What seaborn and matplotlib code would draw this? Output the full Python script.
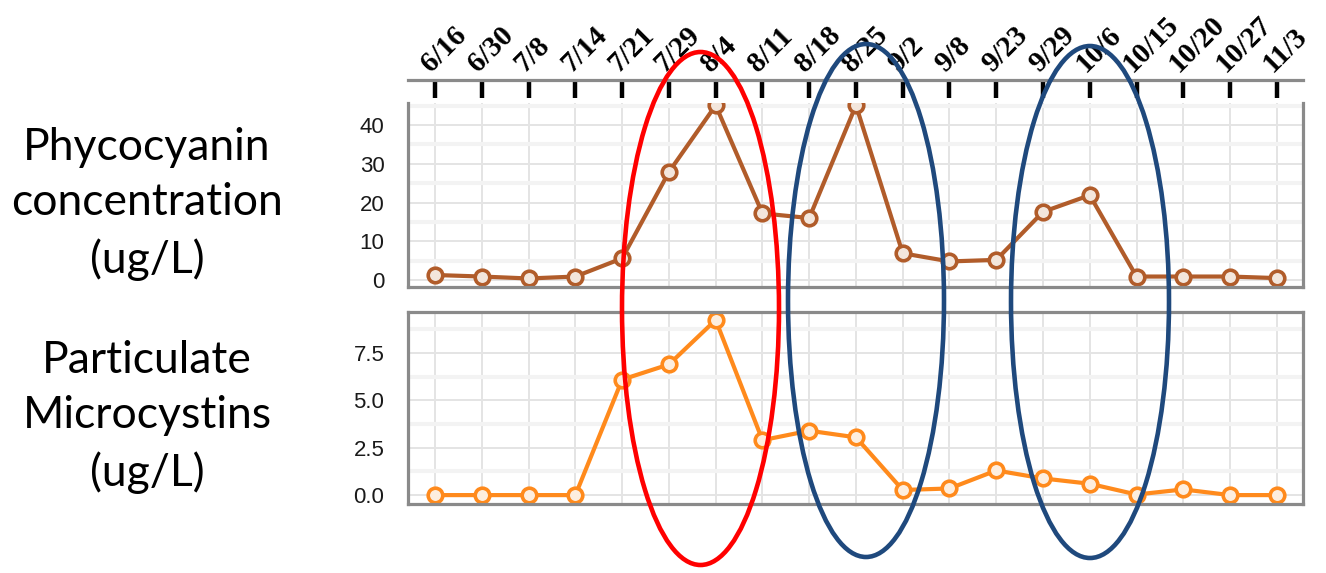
import numpy as np
import matplotlib
matplotlib.use("Agg")
import matplotlib.pyplot as plt
from matplotlib.patches import Ellipse
from matplotlib.ticker import MultipleLocator
import seaborn as sns

dates = ['6/16', '6/30', '7/8', '7/14', '7/21', '7/29', '8/4', '8/11', '8/18', '8/25',
         '9/2', '9/8', '9/23', '9/29', '10/6', '10/15', '10/20', '10/27', '11/3']
phycocyanin = [1.3, 0.9, 0.4, 0.9, 5.6, 27.9, 45.1, 17.2, 16.0, 45.1,
               6.9, 4.8, 5.2, 17.6, 21.9, 0.9, 0.9, 0.9, 0.5]
microcystins = [0.0, 0.0, 0.0, 0.0, 6.1, 6.9, 9.25, 2.9, 3.4, 3.05,
                0.27, 0.35, 1.3, 0.88, 0.6, 0.03, 0.3, 0.0, 0.0]

W, H = 1326, 573
idx = np.arange(len(dates))

sns.set_theme(style="white")
plt.rcParams['font.family'] = ['Liberation Sans', 'DejaVu Sans']

fig = plt.figure(figsize=(W / 100, H / 100), dpi=100)


def px_axes(left, top, right, bottom):
    return fig.add_axes([left / W, 1 - bottom / H, (right - left) / W, (bottom - top) / H])


ax1 = px_axes(408, 103, 1303, 287)
ax2 = px_axes(408, 312, 1303, 504)

spine_col = '#8a8a8a'

for ax in (ax1, ax2):
    ax.set_xlim(-0.58, 18.56)
    ax.set_xticks(idx)
    ax.grid(True, which='major', color='#e4e4e4', lw=1.4)
    ax.grid(True, which='minor', axis='y', color='#f3f3f3', lw=3)
    ax.tick_params(axis='y', length=0, pad=17, labelsize=16, labelcolor='#1a1a1a')
    ax.set_axisbelow(True)
    for s in ax.spines.values():
        s.set_color(spine_col)
        s.set_linewidth(2.3)

# top panel: phycocyanin
sns.lineplot(x=idx, y=phycocyanin, ax=ax1, color='#b15c2a', linewidth=3.0, marker='o',
             markersize=10.5, markeredgewidth=2.6, markeredgecolor='#b15c2a',
             markerfacecolor='#f3e6dc')
ax1.set_ylim(-1.8, 45.7)
ax1.set_yticks([0, 10, 20, 30, 40])
ax1.yaxis.set_minor_locator(MultipleLocator(5))
ax1.tick_params(axis='y', which='minor', length=0)
ax1.spines['top'].set_position(('outward', 16.5))
ax1.tick_params(axis='x', which='major', top=True, labeltop=True, bottom=False,
                labelbottom=False, direction='in', length=13, width=3.2,
                color='black', pad=2, labelsize=21, labelcolor='black')
ax1.set_xticks(idx)
ax1.set_xticklabels(dates, rotation=45, ha='left', va='bottom', rotation_mode='anchor',
                    fontfamily=['Liberation Serif', 'DejaVu Serif'],
                    fontweight='bold', fontsize=21)
ax1.set_xlabel('')

# bottom panel: particulate microcystins
sns.lineplot(x=idx, y=microcystins, ax=ax2, color='#ff8a1c', linewidth=3.0, marker='o',
             markersize=10.5, markeredgewidth=2.6, markeredgecolor='#ff8a1c',
             markerfacecolor='#fdeedf')
ax2.set_ylim(-0.47, 9.67)
ax2.set_yticks([0, 2.5, 5.0, 7.5])
ax2.set_yticklabels(['0.0', '2.5', '5.0', '7.5'])
ax2.yaxis.set_minor_locator(MultipleLocator(1.25))
ax2.tick_params(axis='y', which='minor', length=0)
ax2.tick_params(axis='x', length=0, labelbottom=False)

# left-hand labels
lab_kw = dict(ha='center', va='center', fontsize=32, family=['Lato', 'DejaVu Sans'],
              color='black', linespacing=1.42)
fig.text(147 / W, 1 - 204 / H, 'Phycocyanin\nconcentration\n(ug/L)', **lab_kw)
fig.text(147 / W, 1 - 417 / H, 'Particulate\nMicrocystins\n(ug/L)', **lab_kw)

# highlight ellipses
rings = [((700.5, 308.5), 157, 513, '#ff0000'),
         ((866, 300.5), 156, 513, '#1f497d'),
         ((1090, 302), 158, 512, '#1f497d')]
for (cx, cy), w, h, col in rings:
    fig.add_artist(Ellipse((cx / W, 1 - cy / H), w / W, h / H, transform=fig.transFigure,
                           fill=False, edgecolor=col, lw=3.3, zorder=10))

fig.savefig('out.png', dpi=100)
